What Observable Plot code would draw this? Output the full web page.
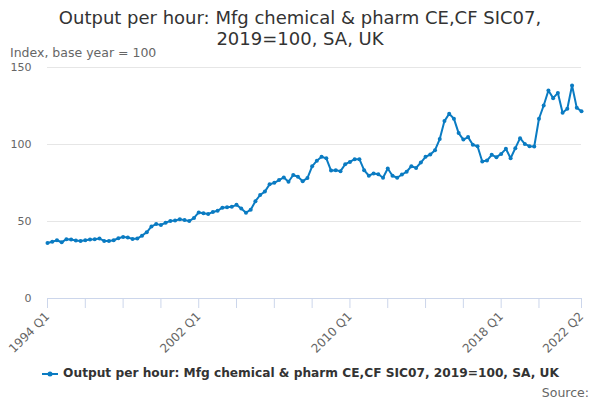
<!DOCTYPE html>
<html>
<head>
<meta charset="utf-8">
<script src="https://cdn.jsdelivr.net/npm/d3@7"></script>
<script src="https://cdn.jsdelivr.net/npm/@observablehq/plot@0.6"></script>
<style>
  html, body { margin: 0; padding: 0; background: #fff; }
  #wrap { position: relative; width: 600px; height: 400px; font-family: "DejaVu Sans", sans-serif; overflow: hidden; }
  #title { position: absolute; top: 7px; left: 0; width: 600px; text-align: center; font-size: 18px; line-height: 21px; color: #333; }
  #subtitle { position: absolute; top: 45px; left: 10px; font-size: 12.5px; color: #666; }
  #chart { position: absolute; top: 56px; left: 0; }
  #legend { position: absolute; top: 366px; left: 0; width: 600px; text-align: center; font-size: 12.2px; font-weight: bold; color: #333; white-space: nowrap; }
  #legend svg { vertical-align: middle; margin-right: 4px; }
  #source { position: absolute; top: 385px; right: 11px; font-size: 12.5px; color: #666; }
</style>
</head>
<body>
<div id="wrap">
  <div id="title">Output per hour: Mfg chemical &amp; pharm CE,CF SIC07,<br>2019=100, SA, UK</div>
  <div id="subtitle">Index, base year = 100</div>
  <div id="chart"></div>
  <div id="legend"></div>
  <div id="source">Source:</div>
</div>
<script>
const seriesName = "Output per hour: Mfg chemical & pharm CE,CF SIC07, 2019=100, SA, UK";
const lineColor = "#0a7bc2";

const startYear = 1994;
const values = [
  36.0, 36.8, 37.8, 36.5, 38.5, 38.3, 37.6, 37.4, 37.8, 38.3,
  38.5, 38.9, 37.4, 37.4, 37.8, 39.1, 40.0, 39.6, 38.7, 38.9,
  40.8, 43.0, 46.8, 48.3, 47.8, 49.2, 50.4, 50.7, 51.4, 50.9,
  50.3, 52.3, 55.9, 55.3, 54.8, 56.2, 57.0, 59.0, 59.3, 59.5,
  60.8, 58.4, 55.7, 57.7, 63.2, 67.2, 69.4, 74.2, 75.1, 76.9,
  78.6, 75.8, 80.2, 79.1, 76.2, 78.2, 85.8, 89.5, 92.0, 91.0,
  83.1, 83.3, 82.7, 87.2, 88.7, 90.5, 90.5, 83.3, 79.7, 81.2,
  80.7, 78.4, 84.4, 79.7, 78.4, 80.5, 82.3, 85.9, 84.8, 88.3,
  92.0, 93.5, 96.3, 103.5, 115.2, 120.0, 116.8, 107.4, 103.2, 104.8,
  99.8, 98.9, 89.0, 89.6, 93.3, 91.8, 93.9, 97.2, 91.1, 97.6,
  104.1, 100.4, 98.9, 98.7, 116.7, 125.3, 135.1, 130.1, 133.5, 120.6,
  123.2, 138.3, 123.8, 121.6
];
const quarters = values.map((_, i) => `${startYear + Math.floor(i / 4)} Q${(i % 4) + 1}`);
const tickQuarters = ["1994 Q1","1996 Q1","1998 Q1","2000 Q1","2002 Q1","2004 Q1","2006 Q1","2008 Q1",
  "2010 Q1","2012 Q1","2014 Q1","2016 Q1","2018 Q1","2020 Q1","2022 Q2"];
const labelledQuarters = ["1994 Q1","2002 Q1","2010 Q1","2018 Q1","2022 Q2"];
const yTicks = [0, 50, 100, 150];

const data = quarters.map((q, i) => ({q, v: values[i]}));

const chart = Plot.plot({
  width: 600,
  height: 300,
  marginTop: 11,
  marginBottom: 58,
  marginLeft: 47,
  marginRight: 19,
  style: { fontFamily: "DejaVu Sans, sans-serif", fontSize: "11px", background: "transparent", overflow: "visible" },
  x: { type: "point", domain: quarters, padding: 0 },
  y: { domain: [0, 150] },
  marks: [
    Plot.ruleY(yTicks.filter(d => d > 0), { stroke: "#e6e6e6", strokeWidth: 1 }),
    Plot.axisY({ ticks: yTicks, tickSize: 0, tickPadding: 16, fill: "#666", fontSize: 11, label: null }),
    Plot.axisX({ ticks: tickQuarters, tickSize: 10, stroke: "#ccd6eb", fill: "#666", fontSize: 12,
      tickRotate: -45, tickPadding: 6, label: null,
      tickFormat: d => labelledQuarters.includes(d) ? d : "" }),
    Plot.ruleY([0], { stroke: "#ccd6eb", strokeWidth: 1 }),
    Plot.line(data, { x: "q", y: "v", stroke: lineColor, strokeWidth: 2 }),
    Plot.dot(data, { x: "q", y: "v", r: 2, fill: lineColor, stroke: "none" })
  ]
});
document.getElementById("chart").appendChild(chart);

const legend = document.getElementById("legend");
legend.innerHTML = `<svg width="18" height="10"><line x1="1" y1="5" x2="17" y2="5" stroke="${lineColor}" stroke-width="2"/><circle cx="9" cy="5" r="2.5" fill="${lineColor}"/></svg>`;
legend.appendChild(document.createTextNode(seriesName));
</script>
</body>
</html>
